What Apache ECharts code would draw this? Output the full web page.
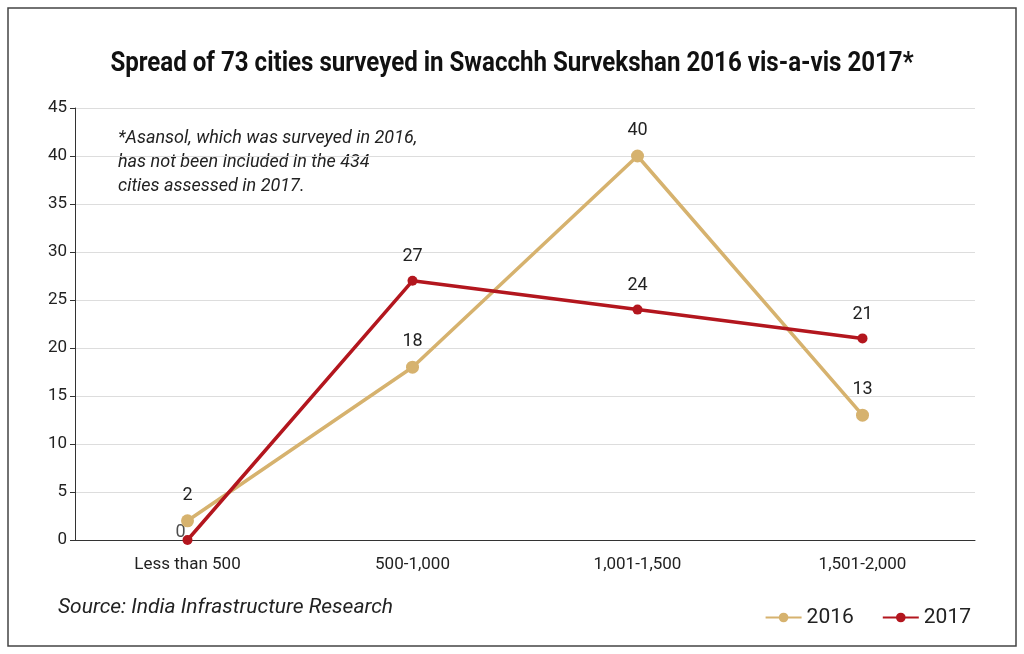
<!DOCTYPE html>
<html><head><meta charset="utf-8">
<script src="https://cdn.jsdelivr.net/npm/echarts@6/dist/echarts.min.js"></script>
<style>html,body{margin:0;padding:0;background:#fff}#c{width:1024px;height:654px}</style>
</head><body><div id="c"></div>
<script>
const categories = ['Less than 500','500-1,000','1,001-1,500','1,501-2,000'];
const values2016 = [2,18,40,13];
const values2017 = [0,27,24,21];
const chart = echarts.init(document.getElementById('c'));
const font = 'Roboto, sans-serif';
chart.setOption({
  backgroundColor:'#fff',
  animation:false,
  graphic:[
    {type:'rect',shape:{x:8,y:8,width:1008,height:638},style:{fill:'none',stroke:'#444',lineWidth:1.5}},
    {type:'text',x:512,y:64,originX:0,originY:0,scaleX:0.86,style:{text:'Spread of 73 cities surveyed in Swacchh Survekshan 2016 vis-a-vis 2017*',font:'bold 28px Roboto, sans-serif',fill:'#111',align:'center',verticalAlign:'middle'}},
    {type:'text',left:118,top:126,style:{text:'*Asansol, which was surveyed in 2016,\nhas not been included in the 434\ncities assessed in 2017.',font:'italic 18px Roboto, sans-serif',lineHeight:24,fill:'#222'}},
    {type:'text',left:58,top:597,style:{text:'Source: India Infrastructure Research',font:'italic 21px Roboto, sans-serif',fill:'#222'}}
  ],
  grid:{left:75,right:49,top:108,bottom:114},
  legend:{right:48,top:602,itemWidth:36,itemHeight:12,itemGap:28,textStyle:{fontSize:21,fontFamily:font,color:'#222'},data:['2016','2017']},
  xAxis:{type:'category',data:categories,boundaryGap:true,
    axisLine:{lineStyle:{color:'#333'}},axisTick:{show:false},
    axisLabel:{fontSize:17,fontFamily:font,color:'#222',margin:16}},
  yAxis:{type:'value',min:0,max:45,interval:5,
    axisLine:{show:true,lineStyle:{color:'#333'}},axisTick:{show:true,length:5,lineStyle:{color:'#333'}},
    axisLabel:{fontSize:17,fontFamily:font,color:'#222',margin:8},
    splitLine:{lineStyle:{color:'#ddd'}}},
  series:[
    {name:'2016',type:'line',data:values2016,color:'#D6B26E',symbol:'circle',symbolSize:13,
      lineStyle:{width:3.5,color:'#D6B26E'},itemStyle:{color:'#D6B26E'},
      label:{show:true,position:'top',distance:10,fontSize:18,fontFamily:font,color:'#222'}},
    {name:'2017',type:'line',data:values2017,color:'#B3161E',symbol:'circle',symbolSize:10,
      lineStyle:{width:3.5,color:'#B3161E'},itemStyle:{color:'#B3161E'},
      label:{show:true,position:'top',distance:10,fontSize:18,fontFamily:font,color:'#222',
        formatter:p=>p.dataIndex===0?'':p.value}},
    {name:'lab0',type:'scatter',data:[[0,0]],symbolSize:0,silent:true,
      label:{show:true,position:'left',distance:2,fontSize:18,fontFamily:font,color:'#222',formatter:'0',offset:[0,-8]}}
  ]
});
</script></body></html>
